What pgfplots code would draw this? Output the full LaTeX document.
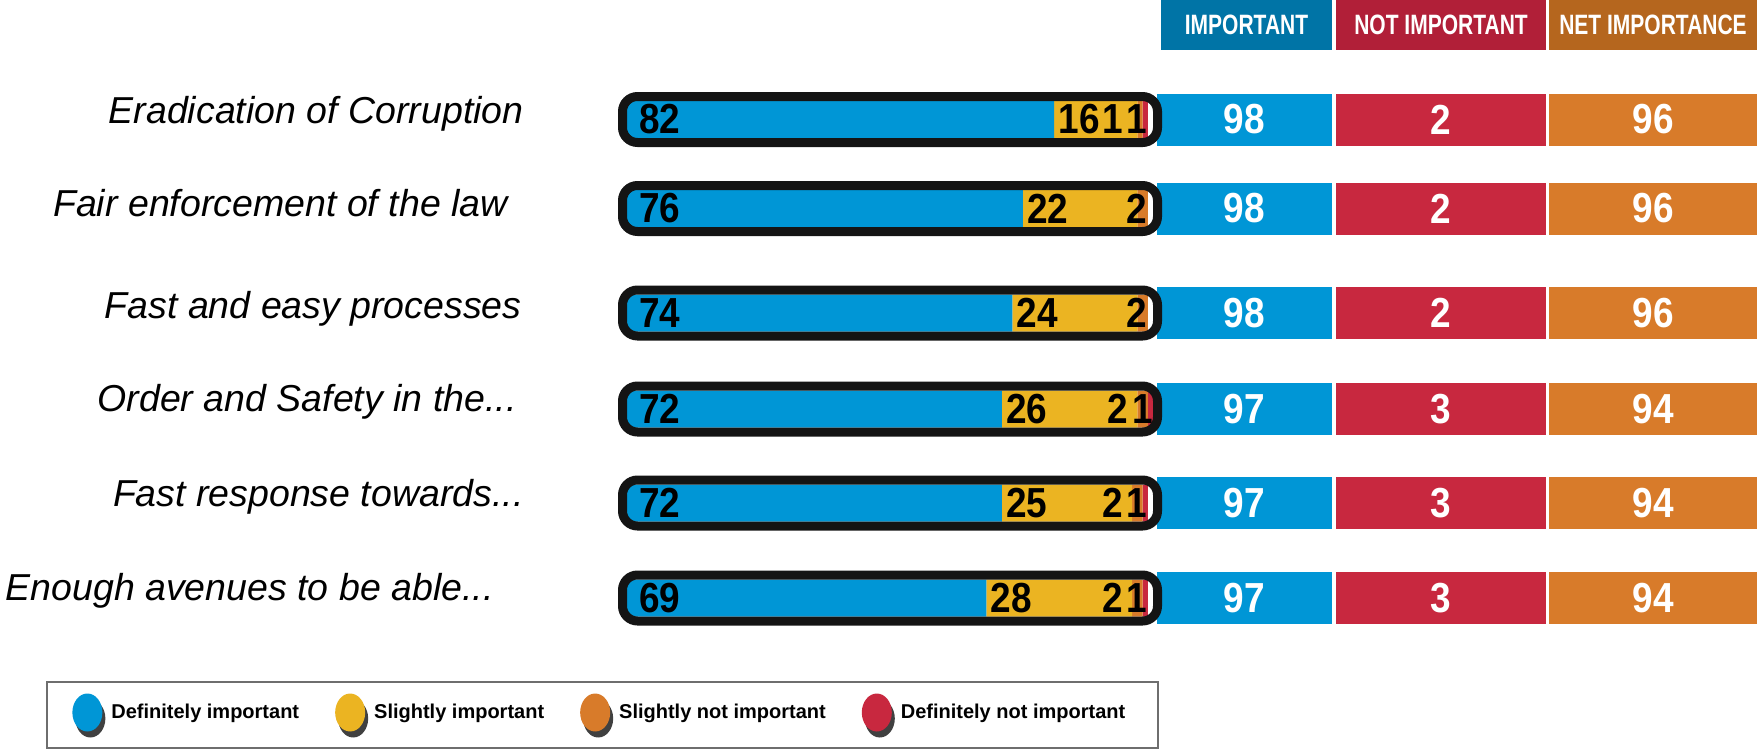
\documentclass[border=0pt]{standalone}
\usepackage{fontspec}
\setmainfont{Liberation Sans}
\newfontfamily\numfont{Liberation Sans}[FakeStretch=0.88]
\newfontfamily\hdrfont{Liberation Sans}[FakeStretch=0.75]
\usepackage{pgfplots}
\usepackage{pgfplotstable}
\pgfplotsset{compat=1.18}

\definecolor{cblue}{HTML}{0096D6}
\definecolor{cyellow}{HTML}{EBB422}
\definecolor{corange}{HTML}{D87B2A}
\definecolor{cred}{HTML}{C8283F}
\definecolor{hblue}{HTML}{0074A6}
\definecolor{hred}{HTML}{B11F38}
\definecolor{horange}{HTML}{B5661E}
\definecolor{framec}{HTML}{141414}
\definecolor{legframe}{HTML}{6E6E6E}
\definecolor{shadowc}{HTML}{404040}

% y = row centre (pixels from top), a..d = the four answers, then the summary columns
\pgfplotstableread{
y     a  b  c d imp notimp net
119.5 82 16 1 1 98  2      96
208.5 76 22 2 0 98  2      96
313   74 24 2 0 98  2      96
409   72 26 2 1 97  3      94
503   72 25 2 1 97  3      94
598   69 28 2 1 97  3      94
}\datatable

% 1px = 0.5pt, the picture is 1760 x 750 px
\pgfplotsset{
  base/.style={scale only axis, width=880pt, height=375pt,
    ymin=0, ymax=750, y dir=reverse, hide axis, clip=false},
  pxaxis/.style={base, xmin=0, xmax=1760},
  % 0 % at x=627px, 101 % at x=1153px
  pctaxis/.style={base, xmin=-120.393, xmax=217.553},
  lab/.style={draw=none, mark=none, nodes near coords, point meta=explicit symbolic,
    every node near coord/.append style={inner sep=0pt, text=black,
      font=\numfont\bfseries\fontsize{21}{21}\selectfont}},
  cell/.style={draw=none, mark=none, nodes near coords, point meta=explicit symbolic,
    every node near coord/.append style={anchor=center, inner sep=0pt,
      minimum height=26pt, text=white,
      font=\numfont\bfseries\fontsize{21}{21}\selectfont}},
}

\begin{document}
\begin{tikzpicture}

% stacked bars and legend
\begin{axis}[pctaxis,
    xbar stacked, bar width=18.5pt,
    legend columns=4,
    legend cell align=left,
    legend image code/.code={
      \fill[shadowc] (1.5pt,-3pt) ellipse [x radius=7.5pt, y radius=9.5pt];
      \fill[#1] (0pt,0pt) ellipse [x radius=7.5pt, y radius=9.5pt];
    },
    legend style={draw=none, fill=none, inner sep=0pt,
      at={(0.0409,0.046)}, anchor=west,
      font=\bfseries\fontsize{10}{12}\selectfont,
      nodes={inner sep=1pt},
      /tikz/every odd column/.append style={column sep=2pt},
      /tikz/every even column/.append style={column sep=17pt}},
  ]
  \addplot[fill=cblue, draw=none] table[x=a, y=y] {\datatable};
  \addlegendentry{Definitely important}
  \addplot[fill=cyellow, draw=none] table[x=b, y=y] {\datatable};
  \addlegendentry{Slightly important}
  \addplot[fill=corange, draw=none] table[x=c, y=y] {\datatable};
  \addlegendentry{Slightly not important}
  \addplot[fill=cred, draw=none] table[x=d, y=y] {\datatable};
  \addlegendentry{Definitely not important}
\end{axis}

% summary table, headers, row names
\begin{axis}[pxaxis]
  \path (axis cs:0,0) rectangle (axis cs:1760,750);

  \addplot[cell, every node near coord/.append style={fill=cblue, minimum width=87.5pt}]
    table[x expr=1244.5, y=y, meta=imp] {\datatable};
  \addplot[cell, every node near coord/.append style={fill=cred, minimum width=105pt}]
    table[x expr=1441, y=y, meta=notimp] {\datatable};
  \addplot[cell, every node near coord/.append style={fill=corange, minimum width=104pt}]
    table[x expr=1653, y=y, meta=net] {\datatable};

  \tikzset{hdr/.style={text=white, inner sep=0pt, minimum height=25pt,
      font=\hdrfont\bfseries\fontsize{14}{14}\selectfont}}
  \node[hdr, fill=hblue, minimum width=85.5pt] at (axis cs:1246.5,25) {IMPORTANT};
  \node[hdr, fill=hred, minimum width=105pt] at (axis cs:1441,25) {NOT IMPORTANT};
  \node[hdr, fill=horange, minimum width=104pt] at (axis cs:1653,25) {NET IMPORTANCE};

  \tikzset{rowlab/.style={anchor=base east, inner sep=0pt,
      font=\itshape\fontsize{18.75}{20}\selectfont}}
  \node[rowlab] at (axis cs:524,123.5) {Eradication of Corruption};
  \node[rowlab] at (axis cs:508,216.5) {Fair enforcement of the law};
  \node[rowlab] at (axis cs:522,318.5) {Fast and easy processes};
  \node[rowlab] at (axis cs:517,411.5) {Order and Safety in the...};
  \node[rowlab] at (axis cs:524,506.5) {Fast response towards...};
  \node[rowlab] at (axis cs:494,600.5) {Enough avenues to be able...};

  \draw[legframe, line width=1pt] (axis cs:47,682) rectangle (axis cs:1158,748);
\end{axis}

% black rounded frames round the bars
\begin{axis}[pxaxis]
  \pgfplotsinvokeforeach{119.5,208.5,313,409,503,598}{
    \draw[framec, line width=4.5pt, rounded corners=7.5pt]
      (axis cs:622.5,#1-23) rectangle (axis cs:1157.5,#1+23);
  }
\end{axis}

% numbers inside the bars
\begin{axis}[pctaxis]
  \addplot[lab, every node near coord/.append style={anchor=west, xshift=6pt}]
    table[x expr=0, y=y, meta=a] {\datatable};
  \addplot[lab, every node near coord/.append style={anchor=west, xshift=2pt}]
    table[x expr=\thisrow{a}, y=y, meta=b] {\datatable};
  % orange labels: rows with a red part get moved left of the red label
  \addplot[lab, skip coords between index={1}{3},
    every node near coord/.append style={anchor=east, xshift=-9.5pt}]
    table[x expr=\thisrow{a}+\thisrow{b}+\thisrow{c}, y=y, meta=c] {\datatable};
  \addplot[lab, skip coords between index={0}{1}, skip coords between index={3}{6},
    every node near coord/.append style={anchor=east}]
    table[x expr=\thisrow{a}+\thisrow{b}+\thisrow{c}, y=y, meta=c] {\datatable};
  \addplot[lab, skip coords between index={1}{3},
    every node near coord/.append style={anchor=east}]
    table[x expr=\thisrow{a}+\thisrow{b}+\thisrow{c}+\thisrow{d}, y=y, meta=d] {\datatable};
\end{axis}

\end{tikzpicture}
\end{document}
